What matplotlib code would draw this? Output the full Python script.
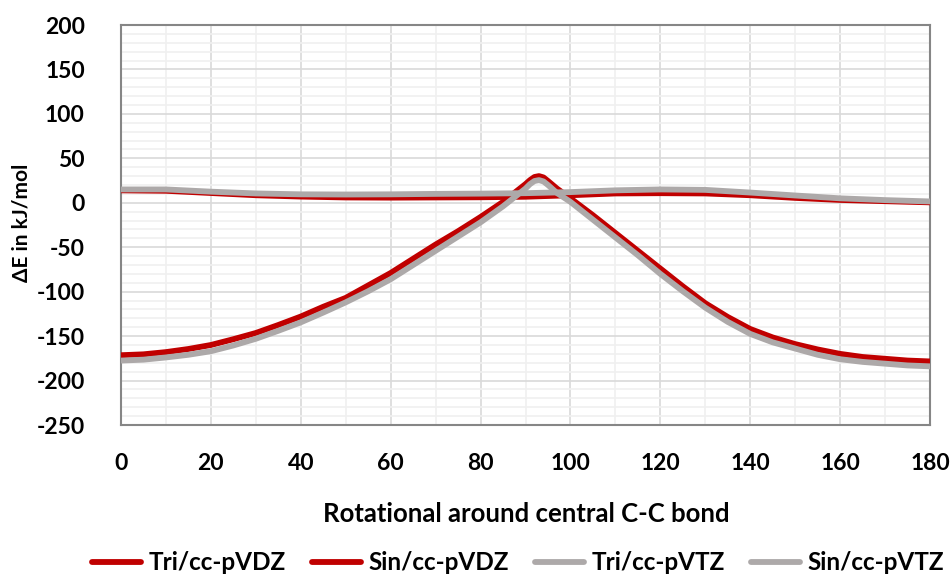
import matplotlib
matplotlib.use("Agg")
import matplotlib.pyplot as plt
from matplotlib.ticker import MultipleLocator

# ---- data ----
angle_tri = [0, 10, 20, 30, 40, 50, 60, 70, 80, 90, 100, 110, 120, 130, 140, 150, 160, 170, 180]
tri_vdz = [14, 13.5, 11, 8.5, 7, 6, 5.8, 6, 6.2, 6.8, 8.5, 10.5, 10.8, 10.5, 8.5, 5.5, 3.2, 1.8, 0.5]
tri_vtz = [15, 15, 12.5, 10.5, 9.5, 9.3, 9.5, 10, 10.3, 10.8, 12, 14, 15, 14.5, 11.5, 8.2, 5, 3, 1.5]

angle_sin = [0, 5, 10, 15, 20, 25, 30, 35, 40, 45, 50, 55, 60, 65, 70, 75, 80, 85, 88, 90,
             91, 92, 93, 94, 95, 97, 100, 105, 110, 115, 120, 125, 130, 135, 140, 145, 150, 155,
             160, 165, 170, 175, 180]
sin_vdz = [-171.5, -170.5, -168, -164.5, -160, -153.5, -146.5, -137.5, -128, -117, -107, -93,
           -79, -63, -47, -32, -16, 1, 13, 21,
           25.5, 29, 30, 28.5, 24.5, 16, 5, -14, -34, -54, -74, -94, -113, -128.5, -142, -151.5,
           -159, -165, -170, -173.5, -175.5, -177.5, -178.5]
sin_vtz = [-177.5, -176.5, -174, -171, -167, -160.5, -153, -144, -134.5, -123.5, -112, -99.5,
           -86, -70, -54, -38, -22, -4, 8, 16,
           21, 24.5, 25.5, 24, 20, 11, 1, -19, -39, -59, -80, -99.5, -118, -134, -147.5, -157,
           -164, -171, -176, -179, -181, -183, -184]

series_labels = ["Tri/cc-pVDZ", "Sin/cc-pVDZ", "Tri/cc-pVTZ", "Sin/cc-pVTZ"]
x_ticks = list(range(0, 181, 20))
y_ticks = list(range(-250, 201, 50))

RED = "#C00000"
GRAY = "#ADA9A9"

plt.rcParams['font.family'] = ['Lato', 'DejaVu Sans']
plt.rcParams['font.weight'] = 'bold'
plt.rcParams['axes.unicode_minus'] = False

fig = plt.figure(figsize=(9.53, 5.76), dpi=100)
ax = fig.add_axes([121 / 953, 1 - 425 / 576, (930 - 121) / 953, 400 / 576])

lw = 4.2
kw = dict(lw=lw, solid_joinstyle='round', solid_capstyle='round')
l1, = ax.plot(angle_tri, tri_vdz, color=RED, zorder=3, **kw)
l2, = ax.plot(angle_sin, sin_vdz, color=RED, zorder=3, **kw)
l3, = ax.plot(angle_tri, tri_vtz, color=GRAY, zorder=4, **kw)
l4, = ax.plot(angle_sin, sin_vtz, color=GRAY, zorder=4, **kw)

ax.set_xlim(0, 180)
ax.set_ylim(-250, 200)
ax.set_xticks(x_ticks)
ax.set_yticks(y_ticks)
ax.xaxis.set_minor_locator(MultipleLocator(10))
ax.yaxis.set_minor_locator(MultipleLocator(10))
ax.grid(which='major', color='#D9D9D9', lw=1.2, zorder=1)
ax.grid(which='minor', color='#F0F0F0', lw=1.2, zorder=0)
ax.set_axisbelow(True)
ax.tick_params(which='both', length=0)
ax.tick_params(axis='y', pad=26, labelsize=16.5)
ax.tick_params(axis='x', pad=20, labelsize=16.5)
for lab in ax.get_xticklabels() + ax.get_yticklabels():
    lab.set_fontweight('bold')
for s in ax.spines.values():
    s.set_color('#868686')
    s.set_linewidth(1.5)

fig.text(22 / 953, 1 - 223 / 576, "ΔE in kJ/mol", rotation=90, ha='center', va='center',
         fontsize=15, fontweight='bold')
fig.text(526 / 953, 1 - 514 / 576, "Rotational around central C-C bond", ha='center', va='center',
         fontsize=18.5, fontweight='bold')

fig.legend([l1, l2, l3, l4], series_labels, loc='center', bbox_to_anchor=(518 / 953, 1 - 563 / 576),
           ncol=4, frameon=False, handlelength=2.0, handletextpad=0.3,
           columnspacing=1.1, prop={'weight': 'bold', 'size': 17.5})

fig.savefig("out.png", dpi=100)
